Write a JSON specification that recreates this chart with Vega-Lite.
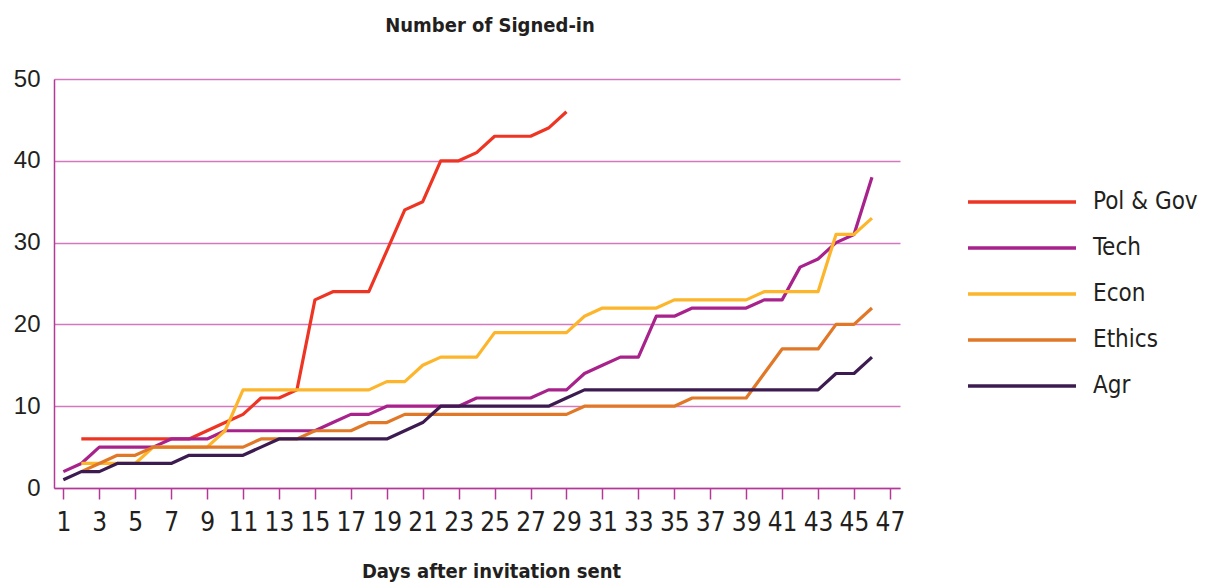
{
  "$schema": "https://vega.github.io/schema/vega-lite/v6.json",
  "autosize": {"type": "none"},
  "width": 846,
  "height": 409,
  "padding": {"left": 54, "top": 79, "right": 310, "bottom": 94},
  "background": "white",
  "title": {
    "text": "Number of Signed-in",
    "font": "DejaVu Sans Condensed, DejaVu Sans, sans-serif",
    "fontSize": 20,
    "fontWeight": "bold",
    "color": "#231F20",
    "anchor": "middle",
    "baseline": "alphabetic",
    "dx": 13,
    "offset": 15
  },
  "config": {
    "view": {"stroke": null},
    "axis": {"labelColor": "#231F20", "titleColor": "#231F20"}
  },
  "datasets": {
    "raw": [
      {"series":"Pol & Gov","day":2,"value":6},{"series":"Pol & Gov","day":3,"value":6},{"series":"Pol & Gov","day":4,"value":6},{"series":"Pol & Gov","day":5,"value":6},{"series":"Pol & Gov","day":6,"value":6},{"series":"Pol & Gov","day":7,"value":6},{"series":"Pol & Gov","day":8,"value":6},{"series":"Pol & Gov","day":9,"value":7},{"series":"Pol & Gov","day":10,"value":8},{"series":"Pol & Gov","day":11,"value":9},{"series":"Pol & Gov","day":12,"value":11},{"series":"Pol & Gov","day":13,"value":11},{"series":"Pol & Gov","day":14,"value":12},{"series":"Pol & Gov","day":15,"value":23},{"series":"Pol & Gov","day":16,"value":24},{"series":"Pol & Gov","day":17,"value":24},{"series":"Pol & Gov","day":18,"value":24},{"series":"Pol & Gov","day":19,"value":29},{"series":"Pol & Gov","day":20,"value":34},{"series":"Pol & Gov","day":21,"value":35},{"series":"Pol & Gov","day":22,"value":40},{"series":"Pol & Gov","day":23,"value":40},{"series":"Pol & Gov","day":24,"value":41},{"series":"Pol & Gov","day":25,"value":43},{"series":"Pol & Gov","day":26,"value":43},{"series":"Pol & Gov","day":27,"value":43},{"series":"Pol & Gov","day":28,"value":44},{"series":"Pol & Gov","day":29,"value":46},
      {"series":"Tech","day":1,"value":2},{"series":"Tech","day":2,"value":3},{"series":"Tech","day":3,"value":5},{"series":"Tech","day":4,"value":5},{"series":"Tech","day":5,"value":5},{"series":"Tech","day":6,"value":5},{"series":"Tech","day":7,"value":6},{"series":"Tech","day":8,"value":6},{"series":"Tech","day":9,"value":6},{"series":"Tech","day":10,"value":7},{"series":"Tech","day":11,"value":7},{"series":"Tech","day":12,"value":7},{"series":"Tech","day":13,"value":7},{"series":"Tech","day":14,"value":7},{"series":"Tech","day":15,"value":7},{"series":"Tech","day":16,"value":8},{"series":"Tech","day":17,"value":9},{"series":"Tech","day":18,"value":9},{"series":"Tech","day":19,"value":10},{"series":"Tech","day":20,"value":10},{"series":"Tech","day":21,"value":10},{"series":"Tech","day":22,"value":10},{"series":"Tech","day":23,"value":10},{"series":"Tech","day":24,"value":11},{"series":"Tech","day":25,"value":11},{"series":"Tech","day":26,"value":11},{"series":"Tech","day":27,"value":11},{"series":"Tech","day":28,"value":12},{"series":"Tech","day":29,"value":12},{"series":"Tech","day":30,"value":14},{"series":"Tech","day":31,"value":15},{"series":"Tech","day":32,"value":16},{"series":"Tech","day":33,"value":16},{"series":"Tech","day":34,"value":21},{"series":"Tech","day":35,"value":21},{"series":"Tech","day":36,"value":22},{"series":"Tech","day":37,"value":22},{"series":"Tech","day":38,"value":22},{"series":"Tech","day":39,"value":22},{"series":"Tech","day":40,"value":23},{"series":"Tech","day":41,"value":23},{"series":"Tech","day":42,"value":27},{"series":"Tech","day":43,"value":28},{"series":"Tech","day":44,"value":30},{"series":"Tech","day":45,"value":31},{"series":"Tech","day":46,"value":38},
      {"series":"Econ","day":2,"value":3},{"series":"Econ","day":3,"value":3},{"series":"Econ","day":4,"value":3},{"series":"Econ","day":5,"value":3},{"series":"Econ","day":6,"value":5},{"series":"Econ","day":7,"value":5},{"series":"Econ","day":8,"value":5},{"series":"Econ","day":9,"value":5},{"series":"Econ","day":10,"value":7},{"series":"Econ","day":11,"value":12},{"series":"Econ","day":12,"value":12},{"series":"Econ","day":13,"value":12},{"series":"Econ","day":14,"value":12},{"series":"Econ","day":15,"value":12},{"series":"Econ","day":16,"value":12},{"series":"Econ","day":17,"value":12},{"series":"Econ","day":18,"value":12},{"series":"Econ","day":19,"value":13},{"series":"Econ","day":20,"value":13},{"series":"Econ","day":21,"value":15},{"series":"Econ","day":22,"value":16},{"series":"Econ","day":23,"value":16},{"series":"Econ","day":24,"value":16},{"series":"Econ","day":25,"value":19},{"series":"Econ","day":26,"value":19},{"series":"Econ","day":27,"value":19},{"series":"Econ","day":28,"value":19},{"series":"Econ","day":29,"value":19},{"series":"Econ","day":30,"value":21},{"series":"Econ","day":31,"value":22},{"series":"Econ","day":32,"value":22},{"series":"Econ","day":33,"value":22},{"series":"Econ","day":34,"value":22},{"series":"Econ","day":35,"value":23},{"series":"Econ","day":36,"value":23},{"series":"Econ","day":37,"value":23},{"series":"Econ","day":38,"value":23},{"series":"Econ","day":39,"value":23},{"series":"Econ","day":40,"value":24},{"series":"Econ","day":41,"value":24},{"series":"Econ","day":42,"value":24},{"series":"Econ","day":43,"value":24},{"series":"Econ","day":44,"value":31},{"series":"Econ","day":45,"value":31},{"series":"Econ","day":46,"value":33},
      {"series":"Ethics","day":2,"value":2},{"series":"Ethics","day":3,"value":3},{"series":"Ethics","day":4,"value":4},{"series":"Ethics","day":5,"value":4},{"series":"Ethics","day":6,"value":5},{"series":"Ethics","day":7,"value":5},{"series":"Ethics","day":8,"value":5},{"series":"Ethics","day":9,"value":5},{"series":"Ethics","day":10,"value":5},{"series":"Ethics","day":11,"value":5},{"series":"Ethics","day":12,"value":6},{"series":"Ethics","day":13,"value":6},{"series":"Ethics","day":14,"value":6},{"series":"Ethics","day":15,"value":7},{"series":"Ethics","day":16,"value":7},{"series":"Ethics","day":17,"value":7},{"series":"Ethics","day":18,"value":8},{"series":"Ethics","day":19,"value":8},{"series":"Ethics","day":20,"value":9},{"series":"Ethics","day":21,"value":9},{"series":"Ethics","day":22,"value":9},{"series":"Ethics","day":23,"value":9},{"series":"Ethics","day":24,"value":9},{"series":"Ethics","day":25,"value":9},{"series":"Ethics","day":26,"value":9},{"series":"Ethics","day":27,"value":9},{"series":"Ethics","day":28,"value":9},{"series":"Ethics","day":29,"value":9},{"series":"Ethics","day":30,"value":10},{"series":"Ethics","day":31,"value":10},{"series":"Ethics","day":32,"value":10},{"series":"Ethics","day":33,"value":10},{"series":"Ethics","day":34,"value":10},{"series":"Ethics","day":35,"value":10},{"series":"Ethics","day":36,"value":11},{"series":"Ethics","day":37,"value":11},{"series":"Ethics","day":38,"value":11},{"series":"Ethics","day":39,"value":11},{"series":"Ethics","day":40,"value":14},{"series":"Ethics","day":41,"value":17},{"series":"Ethics","day":42,"value":17},{"series":"Ethics","day":43,"value":17},{"series":"Ethics","day":44,"value":20},{"series":"Ethics","day":45,"value":20},{"series":"Ethics","day":46,"value":22},
      {"series":"Agr","day":1,"value":1},{"series":"Agr","day":2,"value":2},{"series":"Agr","day":3,"value":2},{"series":"Agr","day":4,"value":3},{"series":"Agr","day":5,"value":3},{"series":"Agr","day":6,"value":3},{"series":"Agr","day":7,"value":3},{"series":"Agr","day":8,"value":4},{"series":"Agr","day":9,"value":4},{"series":"Agr","day":10,"value":4},{"series":"Agr","day":11,"value":4},{"series":"Agr","day":12,"value":5},{"series":"Agr","day":13,"value":6},{"series":"Agr","day":14,"value":6},{"series":"Agr","day":15,"value":6},{"series":"Agr","day":16,"value":6},{"series":"Agr","day":17,"value":6},{"series":"Agr","day":18,"value":6},{"series":"Agr","day":19,"value":6},{"series":"Agr","day":20,"value":7},{"series":"Agr","day":21,"value":8},{"series":"Agr","day":22,"value":10},{"series":"Agr","day":23,"value":10},{"series":"Agr","day":24,"value":10},{"series":"Agr","day":25,"value":10},{"series":"Agr","day":26,"value":10},{"series":"Agr","day":27,"value":10},{"series":"Agr","day":28,"value":10},{"series":"Agr","day":29,"value":11},{"series":"Agr","day":30,"value":12},{"series":"Agr","day":31,"value":12},{"series":"Agr","day":32,"value":12},{"series":"Agr","day":33,"value":12},{"series":"Agr","day":34,"value":12},{"series":"Agr","day":35,"value":12},{"series":"Agr","day":36,"value":12},{"series":"Agr","day":37,"value":12},{"series":"Agr","day":38,"value":12},{"series":"Agr","day":39,"value":12},{"series":"Agr","day":40,"value":12},{"series":"Agr","day":41,"value":12},{"series":"Agr","day":42,"value":12},{"series":"Agr","day":43,"value":12},{"series":"Agr","day":44,"value":14},{"series":"Agr","day":45,"value":14},{"series":"Agr","day":46,"value":16}
    ]
  },
  "data": {"name": "raw"},
  "mark": {"type": "line", "strokeWidth": 3.2, "interpolate": "linear", "strokeJoin": "round"},
  "encoding": {
    "x": {
      "field": "day",
      "type": "quantitative",
      "scale": {"domain": [0.48, 47.56], "nice": false, "zero": false},
      "axis": {
        "values": [1,3,5,7,9,11,13,15,17,19,21,23,25,27,29,31,33,35,37,39,41,43,45,47],
        "title": "Days after invitation sent",
        "titleFont": "DejaVu Sans Condensed, DejaVu Sans, sans-serif",
        "titleFontSize": 20,
        "titleFontWeight": "bold",
        "titleX": 437,
        "titleY": 89,
        "titleBaseline": "alphabetic",
        "titleAnchor": "middle",
        "labelFont": "DejaVu Sans Condensed, DejaVu Sans, sans-serif",
        "labelFontSize": 26,
        "labelBaseline": "alphabetic",
        "labelPadding": 31,
        "labelFlush": false,
        "labelOverlap": false,
        "tickSize": 11,
        "tickWidth": 1.5,
        "tickColor": "#B23A96",
        "domainColor": "#B23A96",
        "domainWidth": 1.5,
        "grid": false
      }
    },
    "y": {
      "field": "value",
      "type": "quantitative",
      "scale": {"domain": [0, 50], "nice": false},
      "axis": {
        "values": [0, 10, 20, 30, 40, 50],
        "title": null,
        "ticks": false,
        "labelPadding": 14,
        "labelFont": "Liberation Sans, Arial, sans-serif",
        "labelFontSize": 24,
        "domainColor": "#B23A96",
        "domainWidth": 1.5,
        "grid": true,
        "gridColor": "#D378BE",
        "gridWidth": 1.5
      }
    },
    "color": {
      "field": "series",
      "type": "nominal",
      "scale": {
        "domain": ["Pol & Gov", "Tech", "Econ", "Ethics", "Agr"],
        "range": ["#EE3524", "#A8228C", "#FDB52B", "#E07828", "#3C1C50"]
      },
      "legend": {
        "title": null,
        "orient": "none",
        "legendX": 912,
        "legendY": 100,
        "symbolType": "stroke",
        "symbolSize": 11664,
        "symbolStrokeWidth": 3.5,
        "clipHeight": 46,
        "labelFont": "DejaVu Sans Condensed, DejaVu Sans, sans-serif",
        "labelFontSize": 24,
        "labelColor": "#231F20",
        "labelOffset": 15,
        "rowPadding": 0,
        "labelLimit": 300
      }
    }
  }
}
